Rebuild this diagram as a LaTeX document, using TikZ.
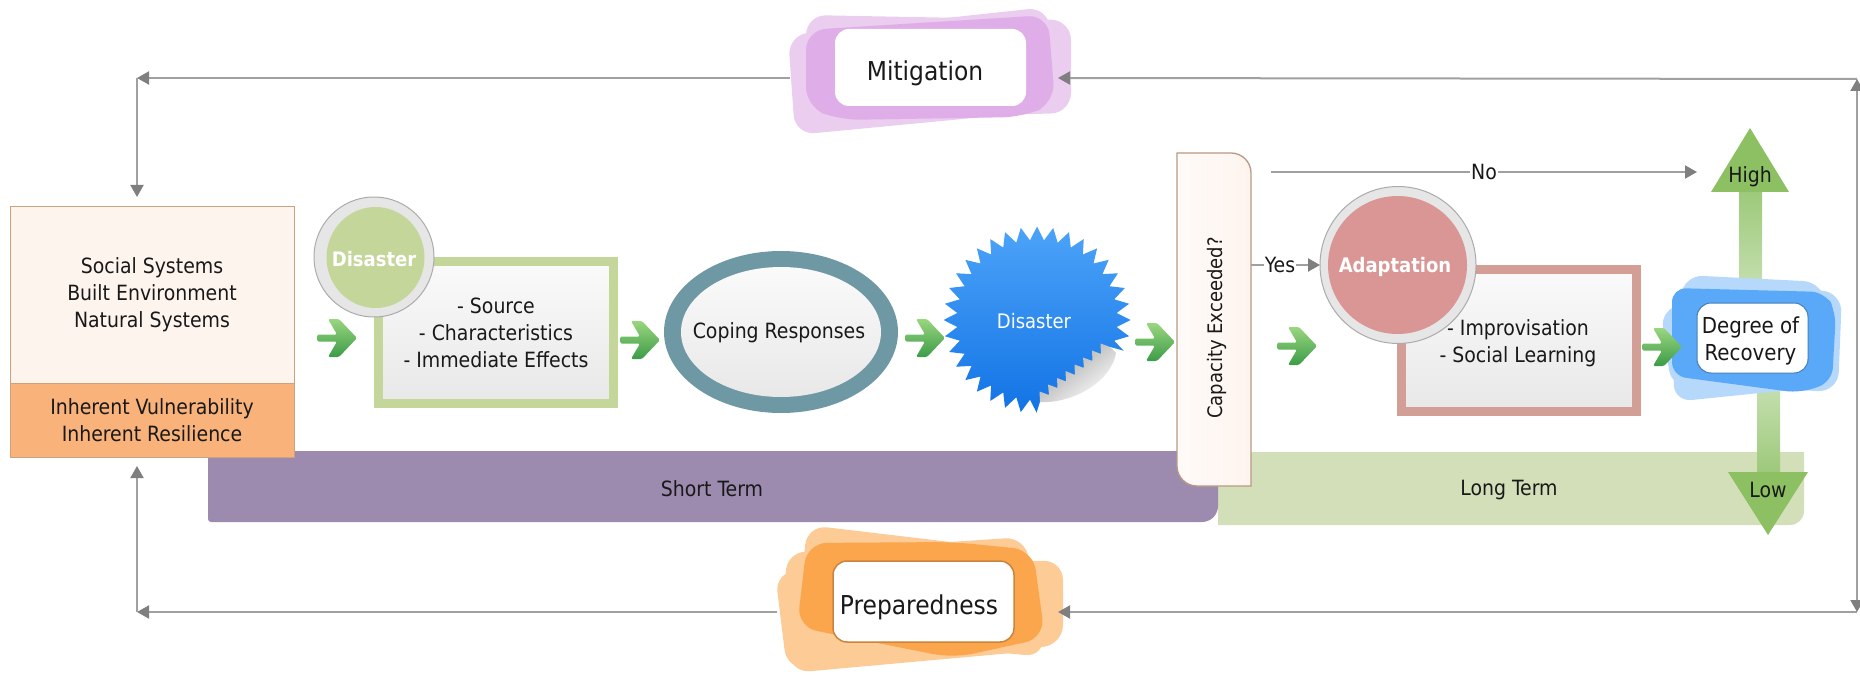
\documentclass[tikz,border=0pt]{standalone}
\usepackage{fontspec}
\setmainfont{DejaVu Sans Condensed}
\usetikzlibrary{arrows.meta,shapes.geometric,positioning}
\definecolor{linegray}{HTML}{A0A0A0}
\definecolor{headgray}{HTML}{7F7F7F}
\definecolor{sysfill}{HTML}{FEF4EE}
\definecolor{sysedge}{HTML}{CFA27E}
\definecolor{capedge}{HTML}{B89A84}
\definecolor{inhfill}{HTML}{F9B27A}
\definecolor{purplebar}{HTML}{9C8BAE}
\definecolor{greenbar}{HTML}{D3DFB8}
\definecolor{greenedge}{HTML}{C5D69B}
\definecolor{rededge}{HTML}{D39E95}
\definecolor{redcircle}{HTML}{D99694}
\definecolor{ringgray}{HTML}{E6E6E6}
\definecolor{ringedge}{HTML}{ABABAB}
\definecolor{copering}{HTML}{6F98A5}
\definecolor{innerlight}{HTML}{FAFAFA}
\definecolor{innerdark}{HTML}{E8E8E8}
\definecolor{starlight}{HTML}{4CA3F8}
\definecolor{stardark}{HTML}{1273E5}
\definecolor{bluedark}{HTML}{5AA8F8}
\definecolor{bluelight}{HTML}{B5D8FB}
\definecolor{purpledark}{HTML}{DFADE8}
\definecolor{purplelight}{HTML}{EBCDF0}
\definecolor{orangedark}{HTML}{FBA54C}
\definecolor{orangelight}{HTML}{FCCB96}
\definecolor{arrowmid}{HTML}{8CC063}
\definecolor{chevlight}{HTML}{9AD67F}
\definecolor{chevdark}{HTML}{3C9C48}
\tikzset{
  txt/.style={font=\fontsize{21}{27}\selectfont,align=center,inner sep=0pt,text=black!90},
  conn/.style={draw=linegray,line width=2pt,-{Triangle[length=12pt,width=13pt,color=headgray]}},
  framed/.style={rectangle,line width=9pt,outer sep=0pt,inner sep=0pt,top color=innerlight,bottom color=innerdark},
  ring/.style={ellipse,fill=ringgray,draw=ringedge,line width=1pt,outer sep=0pt,inner sep=0pt},
  disc/.style={ellipse,outer sep=0pt,inner sep=0pt},
  disctxt/.style={inner sep=0pt,text=white,font=\fontsize{20}{24}\selectfont\bfseries},
  whitebox/.style={rectangle,rounded corners=14pt,fill=white,outer sep=0pt,inner sep=0pt},
  blob/.style={rounded corners=20pt},
  chev/.pic={\shade[top color=chevlight,bottom color=chevdark,rounded corners=1.5pt]
     (-20,-3.5) -- (0,-3.5) -- (-9,-19) -- (2,-19) -- (20,0) -- (2,19) -- (-9,19) -- (0,3.5) -- (-20,3.5) -- cycle;},
}
\begin{document}
\begin{tikzpicture}[x=1pt,y=-1pt]
\useasboundingbox (0,0) rectangle (1860,676);
% time bars
\fill[greenbar] (1218,452) -- (1804,452) [rounded corners=14pt] -- (1804,525) [sharp corners] -- (1218,525) -- cycle;
\fill[purplebar] (208,451) -- (1218,451) [rounded corners=16pt] -- (1218,522) [rounded corners=3pt] -- (208,522) -- cycle;
\node[txt] (short) at (712,489) {Short Term};
\node[txt] (long) at (1509,490) {Long Term};
% recovery arrows
\shade[top color=arrowmid!85,bottom color=arrowmid!50] (1739,192) rectangle (1762,290);
\fill[arrowmid] (1750,128) -- (1789,192) -- (1711,192) -- cycle;
\shade[top color=arrowmid!50,bottom color=arrowmid!85] (1757,385) rectangle (1780,472);
\fill[arrowmid] (1728,472) -- (1808,472) -- (1768,535) -- cycle;
\node[txt] (high) at (1750,177) {High};
\node[txt] (low) at (1768,490) {Low};
% system boxes
\node[rectangle,draw=sysedge,fill=sysfill,line width=1pt,minimum width=284pt,minimum height=176pt,outer sep=0pt,txt] (sys) at (152,295) {Social Systems\\Built Environment\\Natural Systems};
\node[rectangle,draw=sysedge,fill=inhfill,line width=1pt,minimum width=284pt,minimum height=74pt,outer sep=0pt,txt] (inh) at (152,420) {Inherent Vulnerability\\Inherent Resilience};
% disaster box
\node[framed,draw=greenedge,minimum width=235pt,minimum height=141pt,txt] (src) at (496,332.5) {- Source\\- Characteristics\\- Immediate Effects};
\node[ring,minimum width=120pt,minimum height=120pt] (dring) at (374,257) {};
\node[disc,fill=greenedge,minimum width=98pt,minimum height=101pt] (dis) at (375.5,257.5) {};
\node[disctxt] (distxt) at (374,259.5) {Disaster};
% coping
\node[ellipse,fill=copering,minimum width=234pt,minimum height=162pt,outer sep=0pt,inner sep=0pt] (copeo) at (781,332) {};
\node[ellipse,top color=innerlight,bottom color=innerdark,minimum width=200pt,minimum height=130pt,inner sep=0pt,outer sep=0pt] (cope) at (781,332) {};
\node[txt] (copetxt) at (779,333) {Coping Responses};
% star
\node[star,star points=36,star point ratio=1.17,minimum size=187pt,inner sep=0pt,outer sep=0pt,top color=starlight,bottom color=stardark] (burst) at (1037,320) {};
\node[inner sep=0pt,text=white,font=\fontsize{20}{24}\selectfont] (bursttxt) at (1034,321) {Disaster};
\fill[white] (1110,347) -- (1128,352) -- (1115,400) -- (1060,420) -- (1035,418) -- (1040,402) -- cycle;
\shade[top color=black!38,bottom color=white,shading angle=38]
  (1110,347) -- (1100.5,343.5) -- (1101,354) -- (1092,350.5) -- (1092.5,361) -- (1083,357.5) -- (1084,368) -- (1074.5,364.5) -- (1075,375) -- (1065.5,371) -- (1066,381.5) -- (1057,378) -- (1057.5,388) -- (1048,384.5) -- (1049,395) -- (1039.5,391.5) -- (1040,402)
  .. controls (1068,404) and (1110,385) .. (1116,353) -- cycle;
% capacity
\path[draw=capedge,left color=white!60!sysfill,right color=sysfill,line width=1.3pt] (1177,153) -- (1231,153) arc[start angle=90,end angle=0,radius=20pt] -- (1251,486) -- (1197,486) arc[start angle=270,end angle=180,radius=20pt] -- cycle;
\node[rectangle,minimum width=74pt,minimum height=333pt,inner sep=0pt,outer sep=0pt] (cap) at (1214,319.5) {};
\node[inner sep=0pt,font=\fontsize{20}{24}\selectfont,text=black!90,rotate=90] (captxt) at (1217,328) {Capacity Exceeded?};
% adaptation
\node[framed,draw=rededge,minimum width=235pt,minimum height=142pt] (ada) at (1519,340.5) {};
\node[txt] (adatxt) at (1518,343.5) {- Improvisation\\- Social Learning};
\node[ring,minimum width=156pt,minimum height=157pt] (aring) at (1398,265) {};
\node[disc,fill=redcircle,minimum width=139pt,minimum height=138pt] (adapt) at (1397.5,265) {};
\node[disctxt] (adapttxt) at (1395,267) {Adaptation};
% degree of recovery
\fill[blob,bluelight] (1683,275) -- (1823,282) -- (1838,385) -- (1672,402) -- cycle;
\fill[blob,bluelight] (1660,308) -- (1820,285) -- (1842,340) -- (1672,390) -- cycle;
\fill[blob,bluelight] (1690,282) -- (1842,292) -- (1838,392) -- (1690,385) -- cycle;
\fill[rounded corners=14pt,bluedark] (1672,288) -- (1825,292) -- (1836,312) -- (1832,382) -- (1800,393) -- (1672,376) -- cycle;
\node[whitebox,draw=bluedark!75!black,line width=1pt,minimum width=111pt,minimum height=70pt] (deg) at (1752.5,338) {};
\node[txt,font=\fontsize{22}{27}\selectfont] (degtxt) at (1750.5,340.5) {Degree of\\Recovery};
% mitigation
\fill[blob,purplelight] (788,35) -- (1048,7) -- (1057,110) -- (795,135) -- cycle;
\fill[blob,purplelight] (806,15) -- (1071,20) -- (1071,113) -- (806,120) -- cycle;
\fill[blob,purpledark] (806,30) -- (1048,15) -- (1055,103) -- (1023,117) -- (840,120) -- (806,107) -- cycle;
\node[whitebox,minimum width=191pt,minimum height=77pt] (mit) at (930.5,67.5) {};
\node[txt,font=\fontsize{26}{30}\selectfont] (mittxt) at (925,73) {Mitigation};
% preparedness
\fill[blob,orangelight] (807,525) -- (1035,552) -- (1045,657) -- (797,632) -- cycle;
\fill[blob,orangelight] (785,553) -- (1025,537) -- (1045,650) -- (790,673) -- cycle;
\fill[blob,orangelight] (775,572) -- (1063,560) -- (1063,645) -- (787,670) -- cycle;
\fill[blob,orangedark] (807,543) -- (953,542) -- (1033,550) -- (1045,638) -- (953,658) -- (797,627) -- cycle;
\node[whitebox,draw=orangedark!80!black,line width=1.5pt,minimum width=181pt,minimum height=81pt] (prep) at (923.5,601.5) {};
\node[txt,font=\fontsize{26}{30}\selectfont] (preptxt) at (919,607) {Preparedness};
% connector anchors
\coordinate (mitL) at (790,78);
\coordinate (mitR) at (1058,78);
\coordinate (prepL) at (777,612);
\coordinate (prepR) at (1058,612);
\coordinate (tl) at (137,78);
\coordinate (bl) at (137,612);
\coordinate (tr) at (1857,79);
\coordinate (br) at (1857,612);
\coordinate (rm) at (1857,343);
\coordinate (noS) at (1271,172);
\coordinate (noE) at (1697,172);
% connectors
\draw[conn] (tr) -- (mitR);
\draw[conn] (br) -- (prepR);
\draw[conn] (mitL) -- (tl);
\draw[conn] (prepL) -- (bl);
\draw[conn] (tl) -- ([yshift=10pt]sys.north -| tl);
\draw[conn] (bl) -- ([yshift=-9pt]inh.south -| bl);
\draw[conn] (rm) -- (tr);
\draw[conn] (rm) -- (br);
\draw[conn] (noS) -- node[fill=white,txt,inner xsep=1pt] {No} (noE);
\draw[conn] (cap.east |- adapt) -- (aring.west);
\node[txt,fill=white,inner xsep=1pt] (yes) at (1280,265) {Yes};
% green chevrons
\pic at (337,338) {chev};
\pic at (640,340) {chev};
\pic at (925,338) {chev};
\pic at (1155,342) {chev};
\pic at (1297,346) {chev};
\pic at (1662,347) {chev};
\end{tikzpicture}
\end{document}
